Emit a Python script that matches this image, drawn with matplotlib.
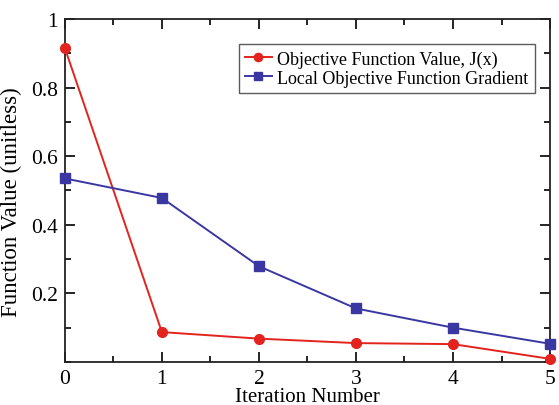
import matplotlib
matplotlib.use("Agg")
import matplotlib.pyplot as plt
from matplotlib.ticker import MultipleLocator, FixedLocator

iterations = [0, 1, 2, 3, 4, 5]
objective = [0.915, 0.087, 0.068, 0.055, 0.052, 0.009]
gradient = [0.535, 0.478, 0.279, 0.156, 0.100, 0.053]
y_ticks = [0.2, 0.4, 0.6, 0.8, 1.0]
y_tick_labels = ["0.2", "0.4", "0.6", "0.8", "1"]
x_ticks = [0, 1, 2, 3, 4, 5]

plt.rcParams['font.family'] = ['Liberation Serif', 'DejaVu Serif']

fig = plt.figure(figsize=(5.59, 4.06), dpi=100)
ax = fig.add_axes([0.116, 0.106, 0.868, 0.845])

red = '#e3231e'
blue = '#3a37a3'
ax.plot(iterations, objective, color=red, marker='o', markersize=7, lw=1.4,
        label='Objective Function Value, J(x)', clip_on=False, zorder=3)
ax.plot(iterations, gradient, color=blue, marker='s', markersize=6.5, lw=1.4,
        label='Local Objective Function Gradient', clip_on=False, zorder=3)

ax.set_xlim(0, 5)
ax.set_ylim(0, 1)
ax.xaxis.set_major_locator(FixedLocator(x_ticks))
ax.xaxis.set_minor_locator(MultipleLocator(0.5))
ax.yaxis.set_major_locator(FixedLocator(y_ticks))
ax.set_yticklabels(y_tick_labels)
ax.yaxis.set_minor_locator(MultipleLocator(0.1))
ax.tick_params(which='both', direction='in', top=True, right=True, labelsize=15.5, width=1.2)
ax.tick_params(which='major', length=7, pad=5)
ax.tick_params(which='minor', length=4)
for s in ax.spines.values():
    s.set_linewidth(1.3)
    s.set_color('#222222')

ax.set_xlabel('Iteration Number', fontsize=15, labelpad=-1)
ax.set_ylabel('Function Value (unitless)', fontsize=16.5)
ax.yaxis.set_label_coords(-0.089, 0.47)

leg = ax.legend(loc='upper right', bbox_to_anchor=(0.969, 0.927), borderaxespad=0,
                fontsize=13, frameon=True, fancybox=False, edgecolor='#333333',
                handlelength=1.5, handletextpad=0.3, borderpad=0.35, labelspacing=0.12,
                markerscale=0.85)
leg.get_frame().set_linewidth(1.0)

fig.savefig('out.png', dpi=100)
